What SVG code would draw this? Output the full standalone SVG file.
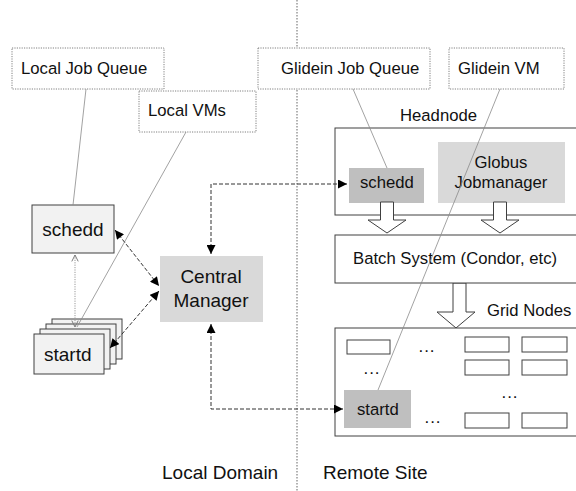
<svg xmlns="http://www.w3.org/2000/svg" width="576" height="491" viewBox="0 0 576 491">
<style>
text{font-family:"Liberation Sans",Arial,sans-serif;fill:#111}
.t{font-size:16.7px}
.b{font-size:19px}
.callout{fill:#fff;stroke:#808080;stroke-width:1;stroke-dasharray:1.2 1.2}
.cl{stroke:#8a8a8a;stroke-width:0.8;fill:none}
.box{fill:#f2f2f2;stroke:#404040;stroke-width:1}
.wbox{fill:#fff;stroke:#404040;stroke-width:1}
.dash{fill:none;stroke:#333;stroke-width:1;stroke-dasharray:4 2}
.hollow{fill:#fff;stroke:#404040;stroke-width:1}
.dots{font-size:17px;letter-spacing:1px;text-anchor:middle}
</style>
<defs>
<marker id="arr" viewBox="0 0 10 10" refX="10" refY="5" markerWidth="10" markerHeight="9" markerUnits="userSpaceOnUse" orient="auto-start-reverse">
<path d="M0,0 L10,5 L0,10 z" fill="#000"/>
</marker>
<marker id="chev" viewBox="0 0 10 10" refX="9" refY="5" markerWidth="8" markerHeight="8" markerUnits="userSpaceOnUse" orient="auto-start-reverse">
<path d="M1,1 L9,5 L1,9" fill="none" stroke="#777" stroke-width="1.2"/>
</marker>
</defs>

<line x1="297" y1="0" x2="297" y2="491" stroke="#999" stroke-width="1.5" stroke-dasharray="1.5 1.5"/>

<g id="local-job-queue"><rect class="callout" x="12" y="48" width="152" height="41"/><text class="t" x="21" y="74">Local Job Queue</text></g>
<g id="local-vms"><rect class="callout" x="139" y="91" width="117" height="41"/><text class="t" x="148" y="116">Local VMs</text></g>
<g id="glidein-job-queue"><rect class="callout" x="258" y="48" width="172" height="41"/><text class="t" x="281" y="74">Glidein Job Queue</text></g>
<g id="glidein-vm"><rect class="callout" x="449" y="48" width="115" height="41"/><text class="t" x="458" y="74">Glidein VM</text></g>

<g id="headnode">
<rect class="wbox" x="335" y="128" width="260" height="87"/>
<text class="t" x="400" y="121">Headnode</text>
</g>
<g id="remote-schedd"><rect x="349" y="168" width="75" height="35" fill="#bfbfbf"/><text class="t" x="360" y="188">schedd</text></g>
<g id="globus-jobmanager"><rect x="438" y="142" width="127" height="61" fill="#d9d9d9"/><text class="t" x="501" y="168" text-anchor="middle">Globus</text><text class="t" x="501" y="188" text-anchor="middle">Jobmanager</text></g>

<g id="hollow-arrows">
<path class="hollow" d="M380.5,202 H393.5 V220 H406 L387,233 L368,220 H380.5 Z"/>
<path class="hollow" d="M493.5,202 H506.5 V220 H519 L500,233 L481,220 H493.5 Z"/>
<path class="hollow" d="M453,283 H466 V312 H475 L456,328 L437,312 H453 Z"/>
</g>

<g id="batch-system"><rect class="wbox" x="335" y="235" width="260" height="48"/><text class="t" x="353" y="264">Batch System (Condor, etc)</text></g>

<g id="grid-nodes">
<text class="t" x="487" y="316">Grid Nodes</text>
<rect class="wbox" x="335" y="328" width="260" height="108"/>
<rect class="wbox" x="347" y="340" width="43" height="14"/>
<rect class="wbox" x="465" y="337" width="44" height="15"/>
<rect class="wbox" x="522" y="337" width="45" height="15"/>
<rect class="wbox" x="465" y="360" width="44" height="15"/>
<rect class="wbox" x="522" y="360" width="45" height="15"/>
<rect class="wbox" x="465" y="413" width="44" height="15"/>
<rect class="wbox" x="522" y="413" width="45" height="15"/>
<text class="dots" x="427" y="352">...</text>
<text class="dots" x="372" y="374">...</text>
<text class="dots" x="510" y="398">...</text>
<text class="dots" x="433" y="423">...</text>
</g>
<g id="remote-startd"><rect x="344" y="390" width="67" height="38" fill="#bfbfbf"/><text class="t" x="357" y="415">startd</text></g>

<g id="local-schedd"><rect class="box" x="32" y="205" width="82" height="48"/><text class="b" x="73" y="236" text-anchor="middle">schedd</text></g>
<g id="central-manager"><rect x="160" y="256" width="103" height="66" fill="#d9d9d9"/><text class="b" x="211" y="283" text-anchor="middle">Central</text><text class="b" x="211" y="307" text-anchor="middle">Manager</text></g>
<g id="local-startd">
<rect class="box" x="52" y="319" width="70" height="40"/>
<rect class="box" x="46" y="324" width="70" height="40"/>
<rect class="box" x="40" y="329" width="70" height="40"/>
<rect class="box" x="34" y="334" width="70" height="40"/>
<text class="b" x="44" y="361">startd</text>
</g>

<g id="callout-lines">
<line class="cl" x1="86" y1="89" x2="73" y2="205"/>
<line class="cl" x1="186" y1="132" x2="77" y2="327"/>
<line class="cl" x1="353" y1="89" x2="387" y2="168"/>
<line class="cl" x1="500" y1="89" x2="378" y2="390"/>
</g>

<g id="connectors">
<path class="dash" d="M211,254 V184 H347" marker-start="url(#arr)" marker-end="url(#arr)"/>
<path class="dash" d="M211,324 V409 H343" marker-start="url(#arr)" marker-end="url(#arr)"/>
<path class="dash" d="M115,230 L159,286" marker-start="url(#arr)" marker-end="url(#arr)"/>
<path class="dash" d="M110,348 L159,291" marker-start="url(#arr)" marker-end="url(#arr)"/>
<path d="M75,255 V327" fill="none" stroke="#999" stroke-width="1" stroke-dasharray="1.2 1.2" marker-start="url(#chev)" marker-end="url(#chev)"/>
</g>

<g id="domain-labels">
<text class="b" x="162" y="479">Local Domain</text>
<text class="b" x="323" y="479">Remote Site</text>
</g>
</svg>
